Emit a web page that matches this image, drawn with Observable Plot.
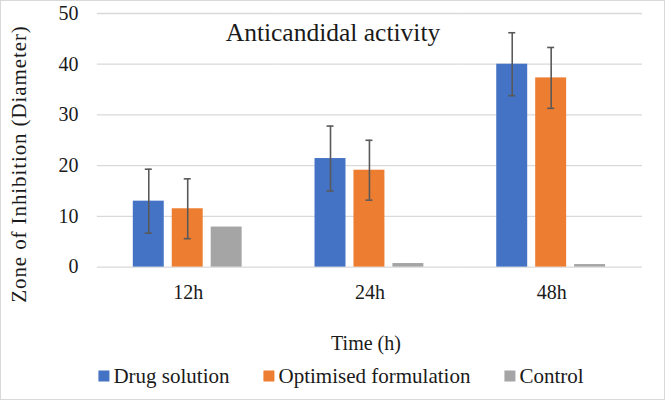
<!DOCTYPE html>
<html>
<head>
<meta charset="utf-8">
<script src="https://cdn.jsdelivr.net/npm/d3@7"></script>
<script src="https://cdn.jsdelivr.net/npm/@observablehq/plot@0.6"></script>
<style>
  html, body { margin: 0; padding: 0; background: #fff; }
  #wrap { position: relative; width: 665px; height: 400px; box-sizing: border-box; border: 1px solid #d9d9d9; overflow: hidden; font-family: "Liberation Serif", "DejaVu Serif", "Liberation Sans", sans-serif; color: #1a1a1a; }
  #chart { position: absolute; left: -1px; top: -1px; }
  .lbl { position: absolute; white-space: nowrap; font-family: "Liberation Serif", "DejaVu Serif", "Liberation Sans", sans-serif; color: #1a1a1a; }
  #title { left: 332px; top: 32px; transform: translate(-50%, -50%); font-size: 25.5px; }
  #ytitle { left: 18px; top: 163px; transform: translate(-50%, -50%) rotate(-90deg); font-size: 21px; letter-spacing: 0.9px; }
  #xtitle { left: 365px; top: 342px; transform: translate(-50%, -50%); font-size: 20px; }
  #legend { left: 340px; top: 375px; transform: translate(-50%, -50%); font-size: 21px; display: flex; align-items: center; }
  .sw { display: inline-block; width: 11px; height: 11px; margin-right: 4px; }
  .item { display: flex; align-items: center; margin-right: 34px; }
  .item:last-child { margin-right: 0; }
</style>
</head>
<body>
<div id="wrap">
  <div id="chart"></div>
  <div class="lbl" id="title">Anticandidal activity</div>
  <div class="lbl" id="ytitle">Zone of Inhibition (Diameter)</div>
  <div class="lbl" id="xtitle">Time (h)</div>
  <div class="lbl" id="legend"></div>
</div>
<script>
const times = ["12h", "24h", "48h"];
const series = ["Drug solution", "Optimised formulation", "Control"];
const colors = ["#4472C4", "#ED7D31", "#A5A5A5"];
const drugSolution = [13.0, 21.4, 40.0];
const optimisedFormulation = [11.5, 19.1, 37.3];
const control = [7.9, 0.7, 0.5];
const drugError = [6.3, 6.4, 6.2];
const optimisedError = [5.9, 5.9, 6.0];
const yTicks = [0, 10, 20, 30, 40, 50];

const rows = [];
times.forEach((t, i) => {
  rows.push({time: t, series: series[0], value: drugSolution[i], err: drugError[i]});
  rows.push({time: t, series: series[1], value: optimisedFormulation[i], err: optimisedError[i]});
  rows.push({time: t, series: series[2], value: control[i], err: null});
});
const errRows = rows.filter(d => d.err != null).map(d => ({...d, lo: d.value - d.err, hi: d.value + d.err}));

const plot = Plot.plot({
  width: 665,
  height: 320,
  marginTop: 13,
  marginBottom: 53,
  marginLeft: 96,
  marginRight: 22,
  style: {background: "transparent", fontFamily: "'Liberation Serif', 'DejaVu Serif', 'Liberation Sans', sans-serif", fontSize: "20px", color: "#1a1a1a"},
  fx: {domain: times, paddingInner: 0, paddingOuter: 0, label: null, tickSize: 0, tickPadding: 18},
  x: {domain: series, paddingInner: 0.2, paddingOuter: 0.88, axis: null},
  y: {domain: [0, 50], ticks: yTicks, label: null, tickSize: 0, tickPadding: 19},
  color: {domain: series, range: colors},
  facet: {data: rows, x: "time"},
  marks: [
    Plot.gridY(yTicks, {stroke: "#d9d9d9", strokeOpacity: 1, strokeWidth: 1.3}),
    Plot.barY(rows, {fx: "time", x: "series", y: "value", fill: "series"}),
    Plot.ruleX(errRows, {fx: "time", x: "series", y1: "lo", y2: "hi", stroke: "#595959", strokeWidth: 1.6}),
    Plot.tickY(errRows, {fx: "time", x: "series", y: "lo", stroke: "#595959", strokeWidth: 1.6, insetLeft: 12, insetRight: 12}),
    Plot.tickY(errRows, {fx: "time", x: "series", y: "hi", stroke: "#595959", strokeWidth: 1.6, insetLeft: 12, insetRight: 12})
  ]
});
document.getElementById("chart").appendChild(plot);

const legend = document.getElementById("legend");
series.forEach((s, i) => {
  const item = document.createElement("span");
  item.className = "item";
  const sw = document.createElement("span");
  sw.className = "sw";
  sw.style.background = colors[i];
  item.appendChild(sw);
  item.appendChild(document.createTextNode(s));
  legend.appendChild(item);
});
</script>
</body>
</html>
